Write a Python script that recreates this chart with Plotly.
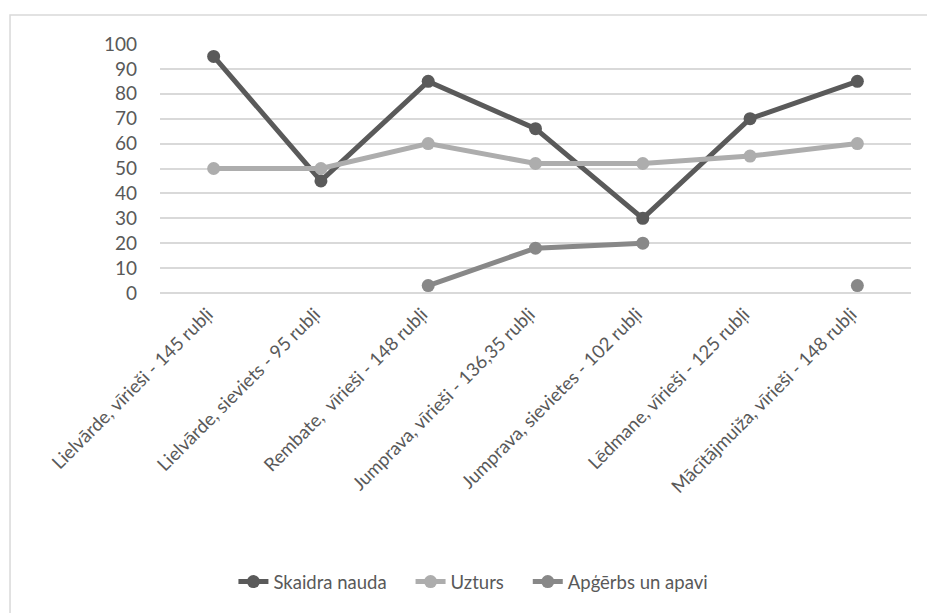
import plotly.graph_objects as go

# ── Data ──────────────────────────────────────────────────────────────────────

categories = [
    "Lielvārde, vīrieši - 145 rubļi",
    "Lielvārde, sieviets - 95 rubļi",
    "Rembate,  vīrieši - 148 rubļi",
    "Jumprava, vīrieši - 136,35 rubļi",
    "Jumprava, sievietes - 102 rubļi",
    "Lēdmane, vīrieši - 125 rubļi",
    "Mācītājmuiža, vīrieši - 148 rubļi",
]
skaidra_nauda = [95, 45, 85, 66, 30, 70, 85]
uzturs = [50, 50, 60, 52, 52, 55, 60]
apgerbs = [None, None, 3, 18, 20, None, 3]
y_ticks = [0, 10, 20, 30, 40, 50, 60, 70, 80, 90, 100]

COLORS = {
    "dark":  "#5a5a5a",
    "light": "#adadad",
    "mid":   "#888888",
    "text":  "#595959",
    "grid":  "#d9d9d9",
}
FONT = "Lato, 'Open Sans', sans-serif"
PAD = "\u00a0" * 4  # extra gap between legend entries

fig = go.Figure()
for name, vals, col in [
    ("Skaidra nauda", skaidra_nauda, COLORS["dark"]),
    ("Uzturs", uzturs, COLORS["light"]),
    ("Apģērbs un apavi", apgerbs, COLORS["mid"]),
]:
    fig.add_trace(go.Scatter(
        x=categories, y=vals, name=name + PAD, mode="lines+markers",
        line=dict(color=col, width=5),
        marker=dict(color=col, size=13),
        cliponaxis=False,
    ))

fig.update_layout(
    width=927, height=613,
    margin=dict(l=160, r=16, t=44, b=320),
    paper_bgcolor="white", plot_bgcolor="white",
    font=dict(family=FONT, color=COLORS["text"], size=16),
    showlegend=True,
    legend=dict(
        orientation="h", x=0.43, xanchor="center", y=-1.161, yanchor="middle",
        font=dict(size=18.5, color=COLORS["text"]),
    ),
    xaxis=dict(
        tickangle=-45, tickfont=dict(size=18.5), showgrid=False,
        showline=False, ticks="", range=[-0.5, 6.5],
        ticklabelstandoff=6, ticklabelshift=-6,
    ),
    yaxis=dict(
        range=[0, 100], tickvals=y_ticks, tickfont=dict(size=19),
        gridcolor=COLORS["grid"], gridwidth=1.5, zeroline=True,
        zerolinecolor=COLORS["grid"], zerolinewidth=1.5, ticks="", ticklabelstandoff=22,
    ),
    shapes=[dict(
        type="rect", xref="paper", yref="paper",
        x0=-0.1997, x1=1.03, y0=-1.32, y1=1.1165,
        line=dict(color="#d9d9d9", width=1.5), layer="below",
    )],
)

fig.write_html(
    "out.html",
    config={"displayModeBar": False},
    post_script="document.body.style.margin='0';",
)
